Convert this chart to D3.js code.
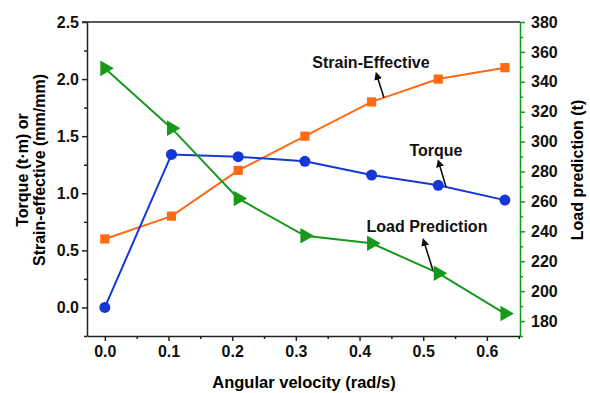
<!DOCTYPE html>
<html>
<head>
<meta charset="utf-8">
<script src="https://cdn.jsdelivr.net/npm/d3@7"></script>
<style>
  body { margin: 0; background: #fff; }
  svg text { font-family: "Liberation Sans", Arial, sans-serif; font-weight: bold; }
</style>
</head>
<body>
<svg id="chart" width="590" height="393"></svg>
<script>
// angular velocity (rad/s): 0..6 rpm
const velocity = [0, 0.1047, 0.2094, 0.3142, 0.4189, 0.5236, 0.6283];
const torque = [0, 1.34, 1.32, 1.28, 1.16, 1.07, 0.94];
const strain = [0.6, 0.8, 1.2, 1.5, 1.8, 2.0, 2.1];
const load = [349, 309, 262, 237, 232, 212, 185];

const xTicks = [0, 0.1, 0.2, 0.3, 0.4, 0.5, 0.6];
const leftTicks = [0, 0.5, 1.0, 1.5, 2.0, 2.5];
const rightTicks = [180, 200, 220, 240, 260, 280, 300, 320, 340, 360, 380];

const BLUE = "#1537d6", ORANGE = "#ff6a13", GREEN = "#16991a";

const svg = d3.select("#chart");
const plotL = 87, plotR = 520, plotT = 22, plotB = 336;

const x = d3.scaleLinear().domain([-0.028, 0.652]).range([plotL, plotR]);
const yL = d3.scaleLinear().domain([-0.25, 2.5]).range([plotB, plotT]);
const yR = d3.scaleLinear().domain([170, 380]).range([plotB, plotT]);

// top frame line
svg.append("line")
    .attr("x1", plotL - 5).attr("x2", plotR)
    .attr("y1", plotT).attr("y2", plotT)
    .attr("stroke", "#222").attr("stroke-width", 1.5);

const styleAxis = (g, color) => {
    g.select(".domain").attr("stroke", color).attr("stroke-width", 1.5);
    g.selectAll(".tick line").attr("stroke", color).attr("stroke-width", 1.5);
    g.selectAll("text").attr("fill", "#111").style("font-size", "16px");
};

// x axis
const gx = svg.append("g").attr("transform", "translate(0," + plotB + ")");
gx.call(d3.axisBottom(x).tickValues(xTicks).tickSize(5).tickPadding(5).tickSizeOuter(0).tickFormat(d3.format(".1f")));
styleAxis(gx, "#222");
const gxm = svg.append("g").attr("transform", "translate(0," + plotB + ")");
gxm.call(d3.axisBottom(x).tickValues(xTicks.map(t => t + 0.05)).tickSize(3).tickFormat("").tickSizeOuter(0));
gxm.select(".domain").remove();
gxm.selectAll(".tick line").attr("stroke", "#222").attr("stroke-width", 1.5);

// left axis
const gl = svg.append("g").attr("transform", "translate(" + plotL + ",0)");
gl.call(d3.axisLeft(yL).tickValues(leftTicks).tickSize(5).tickPadding(3).tickSizeOuter(0).tickFormat(d3.format(".1f")));
styleAxis(gl, "#222");
const glm = svg.append("g").attr("transform", "translate(" + plotL + ",0)");
glm.call(d3.axisLeft(yL).tickValues(leftTicks.map(t => t - 0.25)).tickSize(3).tickFormat(""));
glm.select(".domain").remove();
glm.selectAll(".tick line").attr("stroke", "#222").attr("stroke-width", 1.5);

// right axis
const gr = svg.append("g").attr("transform", "translate(" + plotR + ",0)");
gr.call(d3.axisRight(yR).tickValues(rightTicks).tickSize(5).tickPadding(6).tickSizeOuter(0));
styleAxis(gr, GREEN);
const grm = svg.append("g").attr("transform", "translate(" + plotR + ",0)");
grm.call(d3.axisRight(yR).tickValues(rightTicks.map(t => t - 10)).tickSize(3).tickFormat(""));
grm.select(".domain").remove();
grm.selectAll(".tick line").attr("stroke", GREEN).attr("stroke-width", 1.5);

// axis titles
svg.append("text")
    .attr("x", 304).attr("y", 388)
    .attr("text-anchor", "middle").style("font-size", "16.5px")
    .text("Angular velocity (rad/s)");

const lt = svg.append("text")
    .attr("transform", "translate(28,170) rotate(-90)")
    .attr("text-anchor", "middle").style("font-size", "16px");
lt.append("tspan").attr("x", 0).attr("dy", 0).text("Torque (t\u00b7m) or");
lt.append("tspan").attr("x", 0).attr("dy", 17).text("Strain-effective (mm/mm)");

svg.append("text")
    .attr("transform", "translate(583,170) rotate(-90)")
    .attr("text-anchor", "middle").style("font-size", "16px")
    .text("Load prediction (t)");

// series
const series = [
    {name: "strain", values: strain, y: yL, color: ORANGE, symbol: d3.symbolSquare, size: 85, rot: 0},
    {name: "torque", values: torque, y: yL, color: BLUE, symbol: d3.symbolCircle, size: 95, rot: 0},
    {name: "load", values: load, y: yR, color: GREEN, symbol: d3.symbolTriangle, size: 105, rot: 90}
];

series.forEach(s => {
    const pts = velocity.map((v, i) => [v, s.values[i]]);
    const line = d3.line().x(d => x(d[0])).y(d => s.y(d[1]));
    svg.append("path")
        .attr("d", line(pts))
        .attr("fill", "none")
        .attr("stroke", s.color)
        .attr("stroke-width", 2);
    svg.selectAll("path.m-" + s.name)
        .data(pts)
        .enter()
        .append("path")
        .attr("class", "m-" + s.name)
        .attr("d", d3.symbol().type(s.symbol).size(s.size))
        .attr("transform", d => "translate(" + x(d[0]) + "," + s.y(d[1]) + ") rotate(" + s.rot + ")")
        .attr("fill", s.color);
});

// annotations: arrow from the line (x0,y0) to its head (x1,y1), label offset from the head
const notes = [
    {text: "Strain-Effective", y: yL, x0: 0.4384, y0: 1.837, x1: 0.4274, y1: 2.03, dx: -6, dy: -8},
    {text: "Torque", y: yL, x0: 0.5358, y0: 1.055, x1: 0.5248, y1: 1.265, dx: -3, dy: -7},
    {text: "Load Prediction", y: yR, x0: 0.5153, y0: 214, x1: 0.5012, y1: 233, dx: 3, dy: -10}
];

svg.append("defs").append("marker")
    .attr("id", "head")
    .attr("viewBox", "0 0 10 10")
    .attr("refX", 5).attr("refY", 5)
    .attr("markerWidth", 5).attr("markerHeight", 5)
    .attr("orient", "auto")
    .append("path").attr("d", "M0,0 L10,5 L0,10 z").attr("fill", "#111");

notes.forEach(n => {
    svg.append("line")
        .attr("x1", x(n.x0)).attr("y1", n.y(n.y0))
        .attr("x2", x(n.x1)).attr("y2", n.y(n.y1))
        .attr("stroke", "#111").attr("stroke-width", 1.6)
        .attr("marker-end", "url(#head)");
    svg.append("text")
        .attr("x", x(n.x1) + n.dx).attr("y", n.y(n.y1) + n.dy)
        .attr("text-anchor", "middle")
        .style("font-size", "16px")
        .attr("fill", "#111")
        .text(n.text);
});
</script>
</body>
</html>
